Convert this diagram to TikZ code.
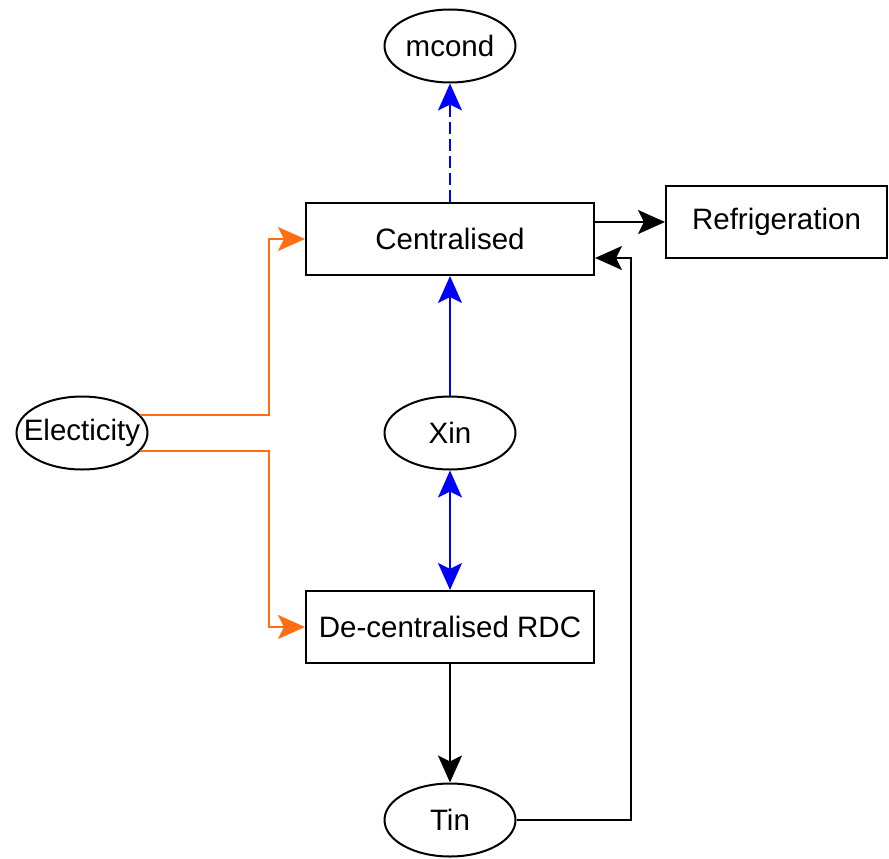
\documentclass[tikz,border=0pt]{standalone}
\usepackage{fontspec}
\setmainfont{Liberation Sans}
\usetikzlibrary{arrows.meta,shapes.geometric,calc}
\definecolor{elecorange}{RGB}{255,110,20}
\definecolor{ctrlblue}{RGB}{0,0,255}
\tikzset{
  dtip/.tip={Stealth[length=27pt,width=24pt,inset=6pt]},
}
\begin{document}
\begin{tikzpicture}[x=1pt,y=1pt,
  every node/.style={font=\fontsize{29.5}{33}\selectfont, line width=2pt, draw=black, inner sep=0pt},
  boxnode/.style={rectangle, minimum width=288pt, minimum height=72pt},
  ellnode/.style={ellipse, minimum width=131pt, minimum height=73pt},
  flow/.style={-dtip, line width=2pt, draw=black},
  elec/.style={-dtip, line width=2pt, draw=elecorange},
  ctrl/.style={-dtip, line width=2pt, draw=ctrlblue},
  both/.style={dtip-dtip, line width=2pt, draw=ctrlblue},
]
\useasboundingbox (0,-859) rectangle (889,0);
\node[ellnode] (mcond) at (450,-46) {mcond};
\node[boxnode] (cent) at (450,-239) {Centralised};
\node[rectangle, minimum width=221pt, minimum height=72pt] (refr) at (776.5,-222) {Refrigeration};
\node[ellnode] (elec) at (82,-433) {\makebox[0pt]{Electicity}};
\node[ellnode] (xin) at (450,-433) {Xin};
\node[boxnode] (dec) at (450,-627) {De-centralised RDC};
\node[ellnode] (tin) at (450,-820) {Tin};
\coordinate (ex) at (269,0);
\coordinate (fb) at (631,-258);

\draw[ctrl, dash pattern=on 12pt off 5pt] (cent.north) -- (mcond.south);
\draw[ctrl] (xin.north) -- (cent.south);
\draw[both] (xin.south) -- (dec.north);
\draw[elec] (elec.17) -- (elec.17 -| ex) |- (cent.west);
\draw[elec] (elec.-17) -- (elec.-17 -| ex) |- (dec.west);
\draw[flow] (cent.east |- refr.west) -- (refr.west);
\draw[flow] (dec.south) -- (tin.north);
\draw[flow] (tin.east) -| (fb) -- (fb -| cent.east);
\end{tikzpicture}
\end{document}
